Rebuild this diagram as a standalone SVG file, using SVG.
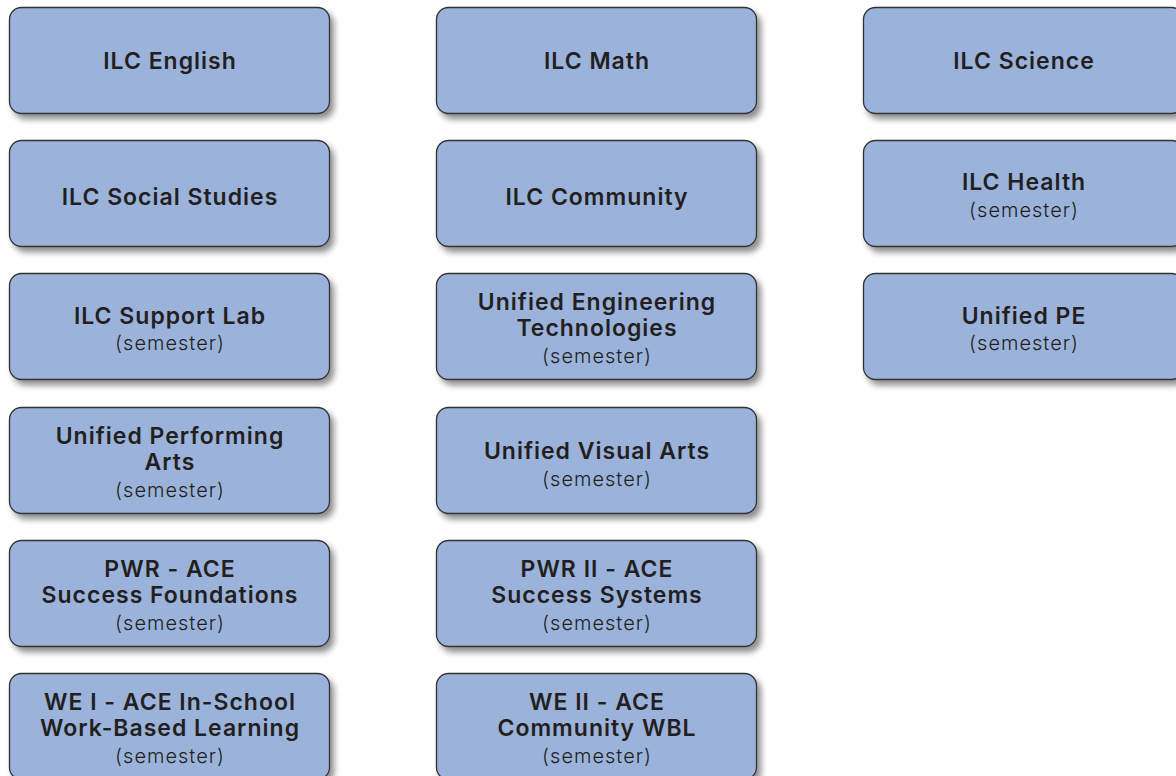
<svg xmlns="http://www.w3.org/2000/svg" width="1176" height="776" viewBox="0 0 1176 776">
<defs>
<filter id="sh" x="-10%" y="-20%" width="130%" height="150%">
<feGaussianBlur in="SourceAlpha" stdDeviation="3"/>
<feOffset dx="4" dy="5" result="b"/>
<feComponentTransfer><feFuncA type="linear" slope="0.45"/></feComponentTransfer>
<feMerge><feMergeNode/><feMergeNode in="SourceGraphic"/></feMerge>
</filter>
<style>
.box{fill:#9bb3db;stroke:#333333;stroke-width:1.3;filter:url(#sh)}
.t{font-family:Inter,"Open Sans",sans-serif;font-weight:600;font-size:23px;letter-spacing:1px;fill:#231f20;text-anchor:middle}
.s{font-family:Inter,"Open Sans",sans-serif;font-weight:300;font-size:20px;letter-spacing:1px;fill:#231f20;text-anchor:middle}
</style>
</defs>
<rect width="1176" height="776" fill="#ffffff"/>
<g id="n1"><rect class="box" x="9.5" y="7.5" width="320" height="106" rx="12"/><text class="t" x="170" y="69">ILC English</text></g>
<g id="n2"><rect class="box" x="436.5" y="7.5" width="320" height="106" rx="12"/><text class="t" x="597" y="69">ILC Math</text></g>
<g id="n3"><rect class="box" x="863.5" y="7.5" width="320" height="106" rx="12"/><text class="t" x="1024" y="69">ILC Science</text></g>
<g id="n4"><rect class="box" x="9.5" y="140.5" width="320" height="106" rx="12"/><text class="t" x="170" y="205">ILC Social Studies</text></g>
<g id="n5"><rect class="box" x="436.5" y="140.5" width="320" height="106" rx="12"/><text class="t" x="597" y="205">ILC Community</text></g>
<g id="n6"><rect class="box" x="863.5" y="140.5" width="320" height="106" rx="12"/><text class="t" x="1024" y="190">ILC Health</text><text class="s" x="1024" y="217">(semester)</text></g>
<g id="n7"><rect class="box" x="9.5" y="273.5" width="320" height="106" rx="12"/><text class="t" x="170" y="324">ILC Support Lab</text><text class="s" x="170" y="350">(semester)</text></g>
<g id="n8"><rect class="box" x="436.5" y="273.5" width="320" height="106" rx="12"/><text class="t" x="597" y="310">Unified Engineering</text><text class="t" x="597" y="336">Technologies</text><text class="s" x="597" y="363">(semester)</text></g>
<g id="n9"><rect class="box" x="863.5" y="273.5" width="320" height="106" rx="12"/><text class="t" x="1024" y="324">Unified PE</text><text class="s" x="1024" y="350">(semester)</text></g>
<g id="n10"><rect class="box" x="9.5" y="407.5" width="320" height="106" rx="12"/><text class="t" x="170" y="444">Unified Performing</text><text class="t" x="170" y="470">Arts</text><text class="s" x="170" y="497">(semester)</text></g>
<g id="n11"><rect class="box" x="436.5" y="407.5" width="320" height="106" rx="12"/><text class="t" x="597" y="459">Unified Visual Arts</text><text class="s" x="597" y="486">(semester)</text></g>
<g id="n12"><rect class="box" x="9.5" y="540.5" width="320" height="106" rx="12"/><text class="t" x="170" y="577">PWR - ACE</text><text class="t" x="170" y="603">Success Foundations</text><text class="s" x="170" y="630">(semester)</text></g>
<g id="n13"><rect class="box" x="436.5" y="540.5" width="320" height="106" rx="12"/><text class="t" x="597" y="577">PWR II - ACE</text><text class="t" x="597" y="603">Success Systems</text><text class="s" x="597" y="630">(semester)</text></g>
<g id="n14"><rect class="box" x="9.5" y="673.5" width="320" height="106" rx="12"/><text class="t" x="170" y="710">WE I - ACE In-School</text><text class="t" x="170" y="736">Work-Based Learning</text><text class="s" x="170" y="763">(semester)</text></g>
<g id="n15"><rect class="box" x="436.5" y="673.5" width="320" height="106" rx="12"/><text class="t" x="597" y="710">WE II - ACE</text><text class="t" x="597" y="736">Community WBL</text><text class="s" x="597" y="763">(semester)</text></g>
<g id="connectors"></g>
</svg>
